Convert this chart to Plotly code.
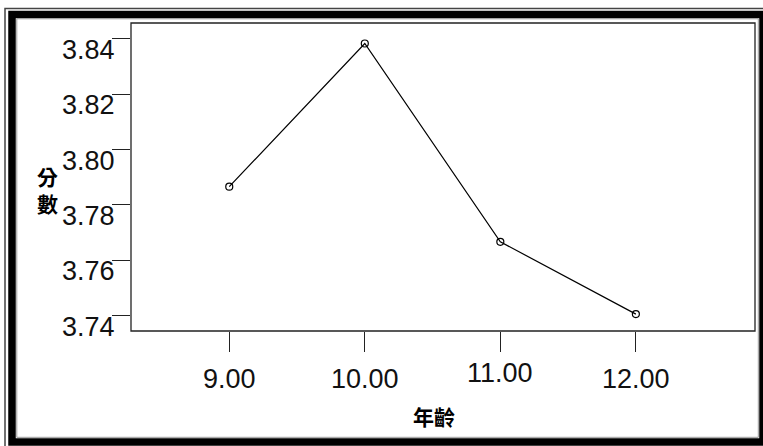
import plotly.graph_objects as go

# ---- data ----
ages = [9, 10, 11, 12]
scores = [3.7866, 3.8383, 3.7667, 3.7406]
x_tick_vals = [9, 10, 11, 12]
x_tick_text = ["9.00", "10.00", "11.00", "12.00"]
y_tick_vals = [3.74, 3.76, 3.78, 3.80, 3.82, 3.84]
y_tick_text = ["3.74", "3.76", "3.78", "3.80", "3.82", "3.84"]
x_title = "年齡"
y_title = "分<br>數"

W, H = 763, 446
L, R, T, B = 131, 8, 23, 115
PW, PH = W - L - R, H - T - B

NUM_FONT = "Liberation Sans, Arial, sans-serif"
CJK_FONT = "Noto Sans CJK TC, Noto Sans CJK SC, sans-serif"


def px(x):
    return (x - L) / PW


def py(y):
    return (H - B - y) / PH


fig = go.Figure()
fig.add_trace(go.Scatter(
    x=ages, y=scores, mode="lines+markers",
    line=dict(color="black", width=1.2),
    marker=dict(symbol="circle-open", size=7, color="black", line=dict(width=1.2)),
    showlegend=False, hoverinfo="skip",
))

annotations = []
# x tick labels
label_nudge = {11: 6}
for v, t in zip(x_tick_vals, x_tick_text):
    annotations.append(dict(
        x=v, xref="x", y=0, yref="paper", text=t, showarrow=False,
        xanchor="center", yanchor="middle", yshift=-48 + label_nudge.get(v, 0),
        font=dict(family=NUM_FONT, size=27, color="#111"),
    ))
# y tick labels
for v, t in zip(y_tick_vals, y_tick_text):
    annotations.append(dict(
        x=0, xref="paper", y=v, yref="y", text=t, showarrow=False,
        xanchor="right", yanchor="middle", xshift=-14, yshift=-11,
        font=dict(family=NUM_FONT, size=27, color="#111"),
    ))
# axis titles
annotations.append(dict(
    x=px(434), xref="paper", y=py(416), yref="paper", text=x_title, showarrow=False,
    xanchor="center", yanchor="middle",
    font=dict(family=CJK_FONT, size=21, color="black", weight="bold"),
))
annotations.append(dict(
    x=px(47), xref="paper", y=py(189), yref="paper", text=y_title, showarrow=False,
    xanchor="center", yanchor="middle",
    font=dict(family=CJK_FONT, size=21, color="black", weight="bold"),
))

shapes = [
    # outer thin line of frame
    dict(type="rect", xref="paper", yref="paper", x0=px(5), x1=px(790), y0=py(8.5), y1=py(470),
         line=dict(color="#444", width=1.5), layer="above"),
    # thick black frame
    dict(type="rect", xref="paper", yref="paper", x0=px(12), x1=px(763), y0=py(14.5), y1=py(442),
         line=dict(color="black", width=7.5), layer="above"),
    # inner gray line
    dict(type="rect", xref="paper", yref="paper", x0=px(16.8), x1=px(758.3), y0=py(18.8), y1=py(437.3),
         line=dict(color="#999", width=1), layer="above"),
    # plot box
    dict(type="rect", xref="paper", yref="paper", x0=0, x1=1, y0=0, y1=1,
         line=dict(color="#222", width=1.3), layer="above"),
]

fig.update_layout(
    width=W, height=H,
    margin=dict(l=L, r=R, t=T, b=B, pad=0),
    paper_bgcolor="white", plot_bgcolor="white",
    xaxis=dict(range=[8.275, 12.879], tickvals=x_tick_vals, showticklabels=False,
               ticks="outside", ticklen=20, tickwidth=1, tickcolor="#222",
               showgrid=False, zeroline=False, showline=False, fixedrange=True),
    yaxis=dict(range=[3.7345, 3.8457], tickvals=y_tick_vals, showticklabels=False,
               ticks="outside", ticklen=18, tickwidth=1, tickcolor="#222",
               showgrid=False, zeroline=False, showline=False, fixedrange=True),
    annotations=annotations,
    shapes=shapes,
)

fig.write_html(
    "out.html",
    config={"displayModeBar": False},
    post_script="document.body.style.margin='0';document.body.style.overflow='hidden';",
)
